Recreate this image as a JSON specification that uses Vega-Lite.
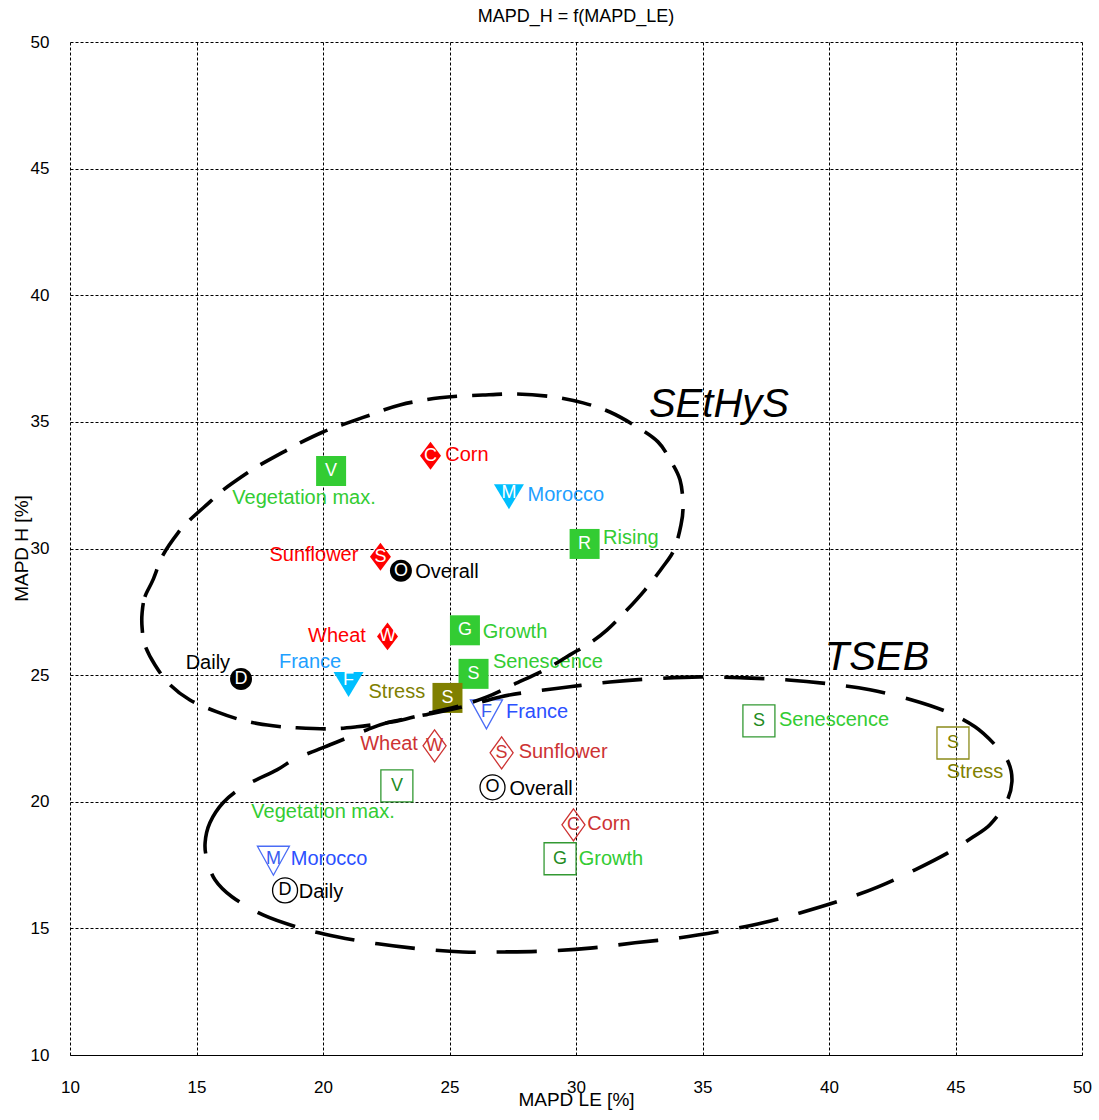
{
  "$schema": "https://vega.github.io/schema/vega-lite/v6.json",
  "width": 1012,
  "height": 1013,
  "autosize": {"type": "none"},
  "padding": {"left": 70, "top": 42, "right": 17, "bottom": 65},
  "background": "white",
  "title": {"text": "MAPD_H = f(MAPD_LE)", "fontSize": 18, "fontWeight": "normal", "font": "Liberation Sans", "color": "#000000", "baseline": "alphabetic", "offset": 0, "dy": 7, "anchor": "middle"},
  "config": {
    "font": "Liberation Sans",
    "view": {"stroke": null},
    "axis": {
      "grid": true, "gridColor": "#000000", "gridDash": [3, 2], "gridWidth": 1, "gridOpacity": 1,
      "ticks": false, "labelFontSize": 17, "labelFont": "Liberation Sans", "labelColor": "#000000",
      "labelFlush": false, "labelOverlap": false, "labelBound": false,
      "titleFontSize": 19, "titleFontWeight": "normal", "titleFont": "Liberation Sans", "titleColor": "#000000",
      "domainColor": "#000000", "domainWidth": 1
    },
    "axisX": {"domain": true, "labelPadding": 24, "titleY": 50, "titleBaseline": "alphabetic"},
    "axisY": {"domain": false, "labelPadding": 21, "titleX": -43, "titleY": 506, "titleBaseline": "alphabetic"}
  },
  "datasets": {
    "points": [
      {"model": "SEtHyS", "series": "Stage", "letter": "V", "label": "Vegetation max.", "x": 20.32, "y": 33.06, "lx": 19.25, "ly": 32.00},
      {"model": "SEtHyS", "series": "Crop", "letter": "C", "label": "Corn", "x": 24.25, "y": 33.66, "lx": 25.69, "ly": 33.70},
      {"model": "SEtHyS", "series": "Site", "letter": "M", "label": "Morocco", "x": 27.35, "y": 32.04, "lx": 29.60, "ly": 32.12},
      {"model": "SEtHyS", "series": "Stage", "letter": "R", "label": "Rising", "x": 30.34, "y": 30.18, "lx": 32.17, "ly": 30.42},
      {"model": "SEtHyS", "series": "Crop", "letter": "S", "label": "Sunflower", "x": 22.27, "y": 29.67, "lx": 19.64, "ly": 29.75},
      {"model": "SEtHyS", "series": "Aggregate", "letter": "O", "label": "Overall", "x": 23.08, "y": 29.12, "lx": 24.90, "ly": 29.08},
      {"model": "SEtHyS", "series": "Crop", "letter": "W", "label": "Wheat", "x": 22.55, "y": 26.53, "lx": 20.55, "ly": 26.55},
      {"model": "SEtHyS", "series": "Stage", "letter": "G", "label": "Growth", "x": 25.61, "y": 26.77, "lx": 27.59, "ly": 26.71},
      {"model": "SEtHyS", "series": "Stage", "letter": "S", "label": "Senescence", "x": 25.95, "y": 25.05, "lx": 28.89, "ly": 25.52},
      {"model": "SEtHyS", "series": "Aggregate", "letter": "D", "label": "Daily", "x": 16.76, "y": 24.85, "lx": 15.45, "ly": 25.48},
      {"model": "SEtHyS", "series": "Site", "letter": "F", "label": "France", "x": 21.01, "y": 24.63, "lx": 19.49, "ly": 25.52},
      {"model": "SEtHyS", "series": "Stress", "letter": "S", "label": "Stress", "x": 24.92, "y": 24.10, "lx": 22.92, "ly": 24.34},
      {"model": "TSEB", "series": "Site", "letter": "F", "label": "France", "x": 26.46, "y": 23.45, "lx": 28.46, "ly": 23.55},
      {"model": "TSEB", "series": "Crop", "letter": "W", "label": "Wheat", "x": 24.41, "y": 22.21, "lx": 22.61, "ly": 22.29},
      {"model": "TSEB", "series": "Crop", "letter": "S", "label": "Sunflower", "x": 27.06, "y": 21.93, "lx": 29.49, "ly": 21.97},
      {"model": "TSEB", "series": "Stage", "letter": "V", "label": "Vegetation max.", "x": 22.92, "y": 20.63, "lx": 20.00, "ly": 19.60},
      {"model": "TSEB", "series": "Aggregate", "letter": "O", "label": "Overall", "x": 26.70, "y": 20.57, "lx": 28.62, "ly": 20.51},
      {"model": "TSEB", "series": "Crop", "letter": "C", "label": "Corn", "x": 29.90, "y": 19.09, "lx": 31.30, "ly": 19.13},
      {"model": "TSEB", "series": "Stage", "letter": "G", "label": "Growth", "x": 29.37, "y": 17.75, "lx": 31.38, "ly": 17.75},
      {"model": "TSEB", "series": "Site", "letter": "M", "label": "Morocco", "x": 18.04, "y": 17.67, "lx": 20.24, "ly": 17.75},
      {"model": "TSEB", "series": "Aggregate", "letter": "D", "label": "Daily", "x": 18.50, "y": 16.50, "lx": 19.92, "ly": 16.44},
      {"model": "TSEB", "series": "Stage", "letter": "S", "label": "Senescence", "x": 37.23, "y": 23.19, "lx": 40.20, "ly": 23.23},
      {"model": "TSEB", "series": "Stress", "letter": "S", "label": "Stress", "x": 44.90, "y": 22.32, "lx": 45.77, "ly": 21.18}
    ],
    "models": [
      {"name": "SEtHyS", "x": 35.65, "y": 35.67},
      {"name": "TSEB", "x": 41.90, "y": 25.68}
    ],
    "ellipses": [
      {"model": "SEtHyS", "i": 1, "x": 12.85, "y": 27.46},
      {"model": "SEtHyS", "i": 2, "x": 12.96, "y": 28.09},
      {"model": "SEtHyS", "i": 3, "x": 13.28, "y": 28.76},
      {"model": "SEtHyS", "i": 4, "x": 13.68, "y": 29.75},
      {"model": "SEtHyS", "i": 5, "x": 14.27, "y": 30.62},
      {"model": "SEtHyS", "i": 6, "x": 14.74, "y": 31.13},
      {"model": "SEtHyS", "i": 7, "x": 15.53, "y": 31.84},
      {"model": "SEtHyS", "i": 8, "x": 16.05, "y": 32.31},
      {"model": "SEtHyS", "i": 9, "x": 17.00, "y": 32.98},
      {"model": "SEtHyS", "i": 10, "x": 17.51, "y": 33.30},
      {"model": "SEtHyS", "i": 11, "x": 18.58, "y": 33.89},
      {"model": "SEtHyS", "i": 12, "x": 19.09, "y": 34.17},
      {"model": "SEtHyS", "i": 13, "x": 20.00, "y": 34.60},
      {"model": "SEtHyS", "i": 14, "x": 20.75, "y": 34.88},
      {"model": "SEtHyS", "i": 15, "x": 21.86, "y": 35.27},
      {"model": "SEtHyS", "i": 16, "x": 23.04, "y": 35.67},
      {"model": "SEtHyS", "i": 17, "x": 24.62, "y": 35.95},
      {"model": "SEtHyS", "i": 18, "x": 26.32, "y": 36.06},
      {"model": "SEtHyS", "i": 19, "x": 27.67, "y": 36.10},
      {"model": "SEtHyS", "i": 20, "x": 29.09, "y": 35.99},
      {"model": "SEtHyS", "i": 21, "x": 30.28, "y": 35.75},
      {"model": "SEtHyS", "i": 22, "x": 31.34, "y": 35.39},
      {"model": "SEtHyS", "i": 23, "x": 32.41, "y": 34.80},
      {"model": "SEtHyS", "i": 24, "x": 33.24, "y": 34.21},
      {"model": "SEtHyS", "i": 25, "x": 33.72, "y": 33.50},
      {"model": "SEtHyS", "i": 26, "x": 34.11, "y": 32.71},
      {"model": "SEtHyS", "i": 27, "x": 34.23, "y": 31.72},
      {"model": "SEtHyS", "i": 28, "x": 34.15, "y": 30.93},
      {"model": "SEtHyS", "i": 29, "x": 33.87, "y": 29.94},
      {"model": "SEtHyS", "i": 30, "x": 33.40, "y": 29.23},
      {"model": "SEtHyS", "i": 31, "x": 32.73, "y": 28.37},
      {"model": "SEtHyS", "i": 32, "x": 32.02, "y": 27.58},
      {"model": "SEtHyS", "i": 33, "x": 31.23, "y": 26.79},
      {"model": "SEtHyS", "i": 34, "x": 30.55, "y": 26.27},
      {"model": "SEtHyS", "i": 35, "x": 29.76, "y": 25.80},
      {"model": "SEtHyS", "i": 36, "x": 28.77, "y": 25.21},
      {"model": "SEtHyS", "i": 37, "x": 27.51, "y": 24.62},
      {"model": "SEtHyS", "i": 38, "x": 26.48, "y": 24.14},
      {"model": "SEtHyS", "i": 39, "x": 25.42, "y": 23.79},
      {"model": "SEtHyS", "i": 40, "x": 24.23, "y": 23.51},
      {"model": "SEtHyS", "i": 41, "x": 23.12, "y": 23.23},
      {"model": "SEtHyS", "i": 42, "x": 22.53, "y": 23.12},
      {"model": "SEtHyS", "i": 43, "x": 21.34, "y": 22.96},
      {"model": "SEtHyS", "i": 44, "x": 20.28, "y": 22.88},
      {"model": "SEtHyS", "i": 45, "x": 18.97, "y": 22.92},
      {"model": "SEtHyS", "i": 46, "x": 18.02, "y": 23.00},
      {"model": "SEtHyS", "i": 47, "x": 16.92, "y": 23.19},
      {"model": "SEtHyS", "i": 48, "x": 15.81, "y": 23.55},
      {"model": "SEtHyS", "i": 49, "x": 14.74, "y": 24.02},
      {"model": "SEtHyS", "i": 50, "x": 13.95, "y": 24.62},
      {"model": "SEtHyS", "i": 51, "x": 13.36, "y": 25.40},
      {"model": "SEtHyS", "i": 52, "x": 12.96, "y": 26.19},
      {"model": "SEtHyS", "i": 53, "x": 12.85, "y": 26.87},
      {"model": "TSEB", "i": 1, "x": 15.34, "y": 18.38},
      {"model": "TSEB", "i": 2, "x": 15.53, "y": 19.17},
      {"model": "TSEB", "i": 3, "x": 16.05, "y": 19.96},
      {"model": "TSEB", "i": 4, "x": 16.84, "y": 20.59},
      {"model": "TSEB", "i": 5, "x": 18.18, "y": 21.26},
      {"model": "TSEB", "i": 6, "x": 18.81, "y": 21.65},
      {"model": "TSEB", "i": 7, "x": 19.57, "y": 21.97},
      {"model": "TSEB", "i": 8, "x": 20.28, "y": 22.25},
      {"model": "TSEB", "i": 9, "x": 20.95, "y": 22.52},
      {"model": "TSEB", "i": 10, "x": 21.74, "y": 22.84},
      {"model": "TSEB", "i": 11, "x": 22.53, "y": 23.12},
      {"model": "TSEB", "i": 12, "x": 23.83, "y": 23.39},
      {"model": "TSEB", "i": 13, "x": 25.53, "y": 23.75},
      {"model": "TSEB", "i": 14, "x": 27.00, "y": 24.14},
      {"model": "TSEB", "i": 15, "x": 28.18, "y": 24.34},
      {"model": "TSEB", "i": 16, "x": 29.76, "y": 24.54},
      {"model": "TSEB", "i": 17, "x": 31.34, "y": 24.73},
      {"model": "TSEB", "i": 18, "x": 32.92, "y": 24.85},
      {"model": "TSEB", "i": 19, "x": 34.90, "y": 24.93},
      {"model": "TSEB", "i": 20, "x": 36.68, "y": 24.89},
      {"model": "TSEB", "i": 21, "x": 38.38, "y": 24.81},
      {"model": "TSEB", "i": 22, "x": 40.04, "y": 24.65},
      {"model": "TSEB", "i": 23, "x": 41.62, "y": 24.42},
      {"model": "TSEB", "i": 24, "x": 43.28, "y": 24.02},
      {"model": "TSEB", "i": 25, "x": 44.66, "y": 23.55},
      {"model": "TSEB", "i": 26, "x": 45.77, "y": 22.96},
      {"model": "TSEB", "i": 27, "x": 46.56, "y": 22.25},
      {"model": "TSEB", "i": 28, "x": 47.08, "y": 21.58},
      {"model": "TSEB", "i": 29, "x": 47.23, "y": 20.79},
      {"model": "TSEB", "i": 30, "x": 47.00, "y": 19.96},
      {"model": "TSEB", "i": 31, "x": 46.36, "y": 19.09},
      {"model": "TSEB", "i": 32, "x": 45.69, "y": 18.61},
      {"model": "TSEB", "i": 33, "x": 44.70, "y": 17.98},
      {"model": "TSEB", "i": 34, "x": 43.40, "y": 17.31},
      {"model": "TSEB", "i": 35, "x": 41.94, "y": 16.64},
      {"model": "TSEB", "i": 36, "x": 40.55, "y": 16.13},
      {"model": "TSEB", "i": 37, "x": 38.85, "y": 15.61},
      {"model": "TSEB", "i": 38, "x": 37.39, "y": 15.22},
      {"model": "TSEB", "i": 39, "x": 35.77, "y": 14.90},
      {"model": "TSEB", "i": 40, "x": 34.11, "y": 14.63},
      {"model": "TSEB", "i": 41, "x": 32.33, "y": 14.43},
      {"model": "TSEB", "i": 42, "x": 30.67, "y": 14.23},
      {"model": "TSEB", "i": 43, "x": 28.97, "y": 14.11},
      {"model": "TSEB", "i": 44, "x": 27.19, "y": 14.07},
      {"model": "TSEB", "i": 45, "x": 25.53, "y": 14.07},
      {"model": "TSEB", "i": 46, "x": 23.83, "y": 14.19},
      {"model": "TSEB", "i": 47, "x": 22.17, "y": 14.39},
      {"model": "TSEB", "i": 48, "x": 20.55, "y": 14.67},
      {"model": "TSEB", "i": 49, "x": 19.09, "y": 15.02},
      {"model": "TSEB", "i": 50, "x": 17.63, "y": 15.53},
      {"model": "TSEB", "i": 51, "x": 16.40, "y": 16.25},
      {"model": "TSEB", "i": 52, "x": 15.73, "y": 16.92},
      {"model": "TSEB", "i": 53, "x": 15.42, "y": 17.71}
    ]
  },
  "layer": [
    {
      "data": {"name": "points"},
      "transform": [{"filter": "datum.model === 'SEtHyS'"}],
      "mark": {"type": "point", "filled": true, "opacity": 1, "size": 900, "strokeWidth": 0},
      "encoding": {
        "x": {"field": "x", "type": "quantitative", "scale": {"domain": [10, 50], "nice": false, "zero": false},
              "axis": {"values": [10, 15, 20, 25, 30, 35, 40, 45, 50], "title": "MAPD LE [%]"}},
        "y": {"field": "y", "type": "quantitative", "scale": {"domain": [10, 50], "nice": false, "zero": false},
              "axis": {"values": [10, 15, 20, 25, 30, 35, 40, 45, 50], "title": "MAPD H [%]"}},
        "shape": {"field": "series", "type": "nominal", "legend": null,
                  "scale": {"domain": ["Crop", "Site", "Stage", "Stress", "Aggregate"],
                            "range": ["M0,-0.933L0.7,0L0,0.933L-0.7,0Z", "M-1,-0.833L1,-0.833L0,0.833Z", "M-1,-1L1,-1L1,1L-1,1Z", "M-1,-1L1,-1L1,1L-1,1Z", "M0.733,0A0.733,0.733,0,1,1,-0.733,0A0.733,0.733,0,1,1,0.733,0Z"]}},
        "fill": {"field": "series", "type": "nominal", "legend": null,
                 "scale": {"domain": ["Crop", "Site", "Stage", "Stress", "Aggregate"], "range": ["#ff0000", "#00bfff", "#33cc33", "#808000", "#000000"]}}
      }
    },
    {
      "data": {"name": "points"},
      "transform": [{"filter": "datum.model === 'SEtHyS' && datum.series !== 'Site'"}],
      "mark": {"type": "text", "fontSize": 18, "color": "#ffffff", "baseline": "middle", "align": "center"},
      "encoding": {
        "x": {"field": "x", "type": "quantitative", "scale": {"domain": [10, 50], "nice": false, "zero": false}, "axis": {"values": [10, 15, 20, 25, 30, 35, 40, 45, 50], "title": "MAPD LE [%]"}},
        "y": {"field": "y", "type": "quantitative", "scale": {"domain": [10, 50], "nice": false, "zero": false}, "axis": {"values": [10, 15, 20, 25, 30, 35, 40, 45, 50], "title": "MAPD H [%]"}},
        "text": {"field": "letter"}
      }
    },
    {
      "data": {"name": "points"},
      "transform": [{"filter": "datum.model === 'SEtHyS' && datum.series === 'Site'"}],
      "mark": {"type": "text", "fontSize": 18, "color": "#ffffff", "baseline": "middle", "align": "center", "dy": -4},
      "encoding": {
        "x": {"field": "x", "type": "quantitative", "scale": {"domain": [10, 50], "nice": false, "zero": false}, "axis": {"values": [10, 15, 20, 25, 30, 35, 40, 45, 50], "title": "MAPD LE [%]"}},
        "y": {"field": "y", "type": "quantitative", "scale": {"domain": [10, 50], "nice": false, "zero": false}, "axis": {"values": [10, 15, 20, 25, 30, 35, 40, 45, 50], "title": "MAPD H [%]"}},
        "text": {"field": "letter"}
      }
    },
    {
      "data": {"name": "points"},
      "transform": [{"filter": "datum.model === 'SEtHyS'"}],
      "mark": {"type": "text", "fontSize": 20, "baseline": "middle", "align": "center"},
      "encoding": {
        "x": {"field": "lx", "type": "quantitative", "scale": {"domain": [10, 50], "nice": false, "zero": false}, "axis": {"values": [10, 15, 20, 25, 30, 35, 40, 45, 50], "title": "MAPD LE [%]"}},
        "y": {"field": "ly", "type": "quantitative", "scale": {"domain": [10, 50], "nice": false, "zero": false}, "axis": {"values": [10, 15, 20, 25, 30, 35, 40, 45, 50], "title": "MAPD H [%]"}},
        "text": {"field": "label"},
        "color": {"field": "series", "type": "nominal", "legend": null,
                  "scale": {"domain": ["Crop", "Site", "Stage", "Stress", "Aggregate"], "range": ["#ff0000", "#1ea0ff", "#33cc33", "#808000", "#000000"]}}
      }
    },
    {
      "data": {"name": "points"},
      "transform": [{"filter": "datum.model === 'TSEB'"}],
      "mark": {"type": "point", "filled": false, "opacity": 1, "size": 1024, "strokeWidth": 1.3, "fill": null},
      "encoding": {
        "x": {"field": "x", "type": "quantitative", "scale": {"domain": [10, 50], "nice": false, "zero": false}, "axis": {"values": [10, 15, 20, 25, 30, 35, 40, 45, 50], "title": "MAPD LE [%]"}},
        "y": {"field": "y", "type": "quantitative", "scale": {"domain": [10, 50], "nice": false, "zero": false}, "axis": {"values": [10, 15, 20, 25, 30, 35, 40, 45, 50], "title": "MAPD H [%]"}},
        "shape": {"field": "series", "type": "nominal", "legend": null,
                  "scale": {"domain": ["Crop", "Site", "Stage", "Stress", "Aggregate"],
                            "range": ["M0,-1L0.72,0L0,1L-0.72,0Z", "M-1,-0.906L1,-0.906L0,0.906Z", "M-1,-1L1,-1L1,1L-1,1Z", "M-1,-1L1,-1L1,1L-1,1Z", "M0.78,0A0.78,0.78,0,1,1,-0.78,0A0.78,0.78,0,1,1,0.78,0Z"]}},
        "stroke": {"field": "series", "type": "nominal", "legend": null,
                   "scale": {"domain": ["Crop", "Site", "Stage", "Stress", "Aggregate"], "range": ["#cd3333", "#4a6cf5", "#339933", "#8b8b1a", "#000000"]}}
      }
    },
    {
      "data": {"name": "points"},
      "transform": [{"filter": "datum.model === 'TSEB' && datum.series !== 'Site'"}],
      "mark": {"type": "text", "fontSize": 18, "baseline": "middle", "align": "center"},
      "encoding": {
        "x": {"field": "x", "type": "quantitative", "scale": {"domain": [10, 50], "nice": false, "zero": false}, "axis": {"values": [10, 15, 20, 25, 30, 35, 40, 45, 50], "title": "MAPD LE [%]"}},
        "y": {"field": "y", "type": "quantitative", "scale": {"domain": [10, 50], "nice": false, "zero": false}, "axis": {"values": [10, 15, 20, 25, 30, 35, 40, 45, 50], "title": "MAPD H [%]"}},
        "text": {"field": "letter"},
        "color": {"field": "series", "type": "nominal", "legend": null,
                  "scale": {"domain": ["Crop", "Site", "Stage", "Stress", "Aggregate"], "range": ["#cd3333", "#3a5cf0", "#228b22", "#808000", "#000000"]}}
      }
    },
    {
      "data": {"name": "points"},
      "transform": [{"filter": "datum.model === 'TSEB' && datum.series === 'Site'"}],
      "mark": {"type": "text", "fontSize": 18, "baseline": "middle", "align": "center", "dy": -2, "color": "#3a5cf0"},
      "encoding": {
        "x": {"field": "x", "type": "quantitative", "scale": {"domain": [10, 50], "nice": false, "zero": false}, "axis": {"values": [10, 15, 20, 25, 30, 35, 40, 45, 50], "title": "MAPD LE [%]"}},
        "y": {"field": "y", "type": "quantitative", "scale": {"domain": [10, 50], "nice": false, "zero": false}, "axis": {"values": [10, 15, 20, 25, 30, 35, 40, 45, 50], "title": "MAPD H [%]"}},
        "text": {"field": "letter"}
      }
    },
    {
      "data": {"name": "points"},
      "transform": [{"filter": "datum.model === 'TSEB'"}],
      "mark": {"type": "text", "fontSize": 20, "baseline": "middle", "align": "center"},
      "encoding": {
        "x": {"field": "lx", "type": "quantitative", "scale": {"domain": [10, 50], "nice": false, "zero": false}, "axis": {"values": [10, 15, 20, 25, 30, 35, 40, 45, 50], "title": "MAPD LE [%]"}},
        "y": {"field": "ly", "type": "quantitative", "scale": {"domain": [10, 50], "nice": false, "zero": false}, "axis": {"values": [10, 15, 20, 25, 30, 35, 40, 45, 50], "title": "MAPD H [%]"}},
        "text": {"field": "label"},
        "color": {"field": "series", "type": "nominal", "legend": null,
                  "scale": {"domain": ["Crop", "Site", "Stage", "Stress", "Aggregate"], "range": ["#cd3333", "#2b50ff", "#33cc33", "#808000", "#000000"]}}
      }
    },
    {
      "data": {"name": "ellipses"},
      "mark": {"type": "line", "interpolate": "cardinal-closed", "strokeWidth": 3.6, "color": "#000000", "strokeCap": "butt"},
      "encoding": {
        "x": {"field": "x", "type": "quantitative", "scale": {"domain": [10, 50], "nice": false, "zero": false}, "axis": {"values": [10, 15, 20, 25, 30, 35, 40, 45, 50], "title": "MAPD LE [%]"}},
        "y": {"field": "y", "type": "quantitative", "scale": {"domain": [10, 50], "nice": false, "zero": false}, "axis": {"values": [10, 15, 20, 25, 30, 35, 40, 45, 50], "title": "MAPD H [%]"}},
        "detail": {"field": "model", "type": "nominal"},
        "order": {"field": "i", "type": "quantitative"},
        "strokeDash": {"field": "model", "type": "nominal", "legend": null,
                       "scale": {"domain": ["SEtHyS", "TSEB"], "range": [[30, 15], [40, 21]]}}
      }
    },
    {
      "data": {"name": "models"},
      "mark": {"type": "text", "fontSize": 40, "fontStyle": "italic", "color": "#000000", "baseline": "middle", "align": "center"},
      "encoding": {
        "x": {"field": "x", "type": "quantitative", "scale": {"domain": [10, 50], "nice": false, "zero": false}, "axis": {"values": [10, 15, 20, 25, 30, 35, 40, 45, 50], "title": "MAPD LE [%]"}},
        "y": {"field": "y", "type": "quantitative", "scale": {"domain": [10, 50], "nice": false, "zero": false}, "axis": {"values": [10, 15, 20, 25, 30, 35, 40, 45, 50], "title": "MAPD H [%]"}},
        "text": {"field": "name"}
      }
    }
  ],
  "resolve": {"scale": {"color": "independent", "shape": "independent", "fill": "independent", "stroke": "independent", "strokeDash": "independent"}}
}
